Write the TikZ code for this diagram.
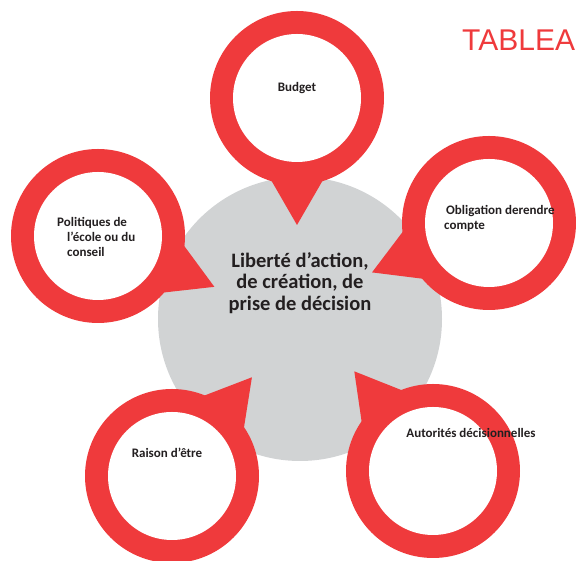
\documentclass[tikz,border=0pt]{standalone}
\usepackage{fontspec}
\setmainfont{Carlito}
\newfontfamily\headfont{Liberation Sans}
\usetikzlibrary{positioning, calc}
\definecolor{pinred}{RGB}{239,58,60}
\definecolor{disc}{RGB}{209,211,212}
\definecolor{ink}{RGB}{35,31,32}
\tikzset{
x=1pt, y=1pt, % one unit is one pixel of the picture
ring/.style={circle, fill=pinred, inner sep=0pt, minimum size=174pt}, % red outer disc of a pin
hole/.style={circle, fill=white, inner sep=0pt, minimum size=128pt}, % white inside of a pin
pin/.style={fill=pinred}, % the pointed part of a pin
item/.style={font=\bfseries\fontsize{13}{15}\selectfont, text=ink, align=left, inner sep=0pt},
}

\begin{document}
\begin{tikzpicture}
    \useasboundingbox (0,0) rectangle (576,561);
    \clip (0,0) rectangle (576,561);

    % centre
    \node[circle, fill=disc, inner sep=0pt, minimum size=284pt] (core) at (300,242) {};

    % red pins
    \node[ring] (budget) at (297,463) {};
    \node[ring] (compte) at (489,338) {};
    \node[ring] (ecole) at (98,325) {};
    \node[ring] (raison) at (172,85) {};
    \node[ring] (autorite) at (433,90) {};
    \fill[pin] ($(budget)+(270:127)$) -- +(60:70) -- +(120:70) -- cycle;
    \fill[pin] ($(compte)+(202.9:127)$) -- +(52.9:70) -- +(-7.1:70) -- cycle;
    \fill[pin] ($(ecole)+(336.4:127)$) -- +(186.4:70) -- +(126.4:70) -- cycle;
    \fill[pin] ($(raison)+(51:127)$) -- +(261:70) -- +(201:70) -- cycle;
    \fill[pin] ($(autorite)+(128.3:127)$) -- +(338.3:70) -- +(278.3:70) -- cycle;
    \node[hole] (budget hole) at (budget) {};
    \node[hole] (compte hole) at (compte) {};
    \node[hole] (ecole hole) at (ecole) {};
    \node[hole] (raison hole) at (raison) {};
    \node[hole] (autorite hole) at (autorite) {};

    % texts
    \node[font=\bfseries\fontsize{20.5}{21.5}\selectfont, text=ink, align=center] (core text) at (300,278) {Liberté d’action,\\de création, de\\prise de décision};
    \node[item] (budget text) at (297,473) {Budget};
    \node[item, anchor=north west] (compte text) at (444,356) {\hspace*{2pt}Obligation derendre\\compte};
    \node[item, anchor=north west] (ecole text) at (57,344) {Politiques de\\\hspace*{10pt}l’école ou du\\\hspace*{10pt}conseil};
    \node[item] (raison text) at (167,108) {Raison d’être};
    \node[item] (autorite text) at (471,128) {Autorités décisionnelles};
    \node[font=\headfont\fontsize{30}{30}\selectfont, text=pinred, anchor=west, inner sep=0pt] (title) at (462,521) {TABLEA};
\end{tikzpicture}
\end{document}
